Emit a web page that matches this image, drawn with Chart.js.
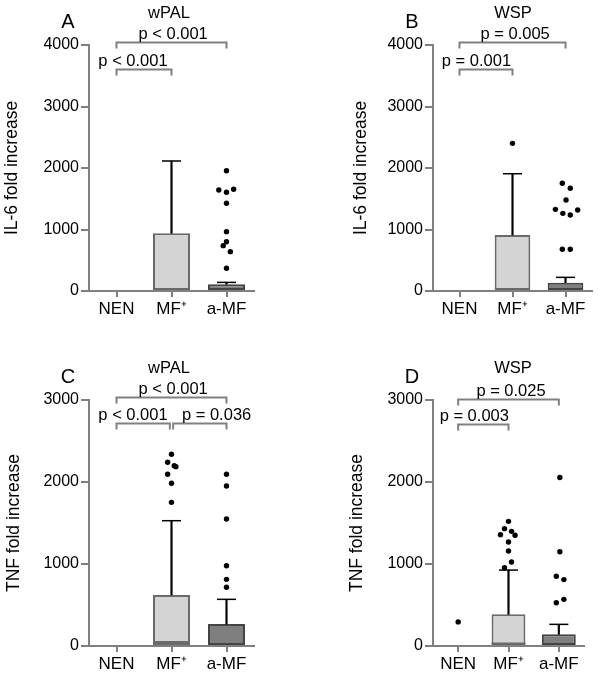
<!DOCTYPE html>
<html>
<head>
<meta charset="utf-8">
<script src="https://cdn.jsdelivr.net/npm/chart.js@4"></script>
<style>
  body { margin: 0; background: #fff; }
  #figura { position: relative; width: 603px; height: 675px; }
  #figura canvas { position: absolute; }
</style>
</head>
<body>
<div id="figura">
  <canvas id="painelA" width="300" height="320" style="left:0px;top:0px"></canvas>
  <canvas id="painelB" width="303" height="320" style="left:300px;top:0px"></canvas>
  <canvas id="painelC" width="300" height="355" style="left:0px;top:320px"></canvas>
  <canvas id="painelD" width="303" height="355" style="left:300px;top:320px"></canvas>
</div>
<script>
// categorias do eixo x
const categorias = ['NEN', 'MF⁺', 'a-MF'];
const baseCaixa = [0, 0, 0];

// A - IL-6, wPAL
const caixaA = [null, 938, 109];
const medianaA = [null, null, null];
const bigodeA = [null, 2114, 140];
const pontosA_x = [2, 1.86, 2, 2.13, 2, 2, 2, 1.94, 2.07, 2];
const pontosA_y = [1956, 1642, 1605, 1654, 1426, 965, 802, 737, 640, 369];
const pA = ['p < 0.001', 'p < 0.001'];

// B - IL-6, WSP
const caixaB = [null, 910, 135];
const medianaB = [null, null, null];
const bigodeB = [null, 1907, 222];
const pontosB_x = [1, 1.94, 2.09, 2.01, 1.81, 1.95, 2.09, 2.23, 1.94, 2.09];
const pontosB_y = [2401, 1751, 1670, 1480, 1328, 1263, 1236, 1317, 678, 678];
const pB = ['p = 0.005', 'p = 0.001'];

// C - TNF, wPAL
const caixaC = [null, 622, 268];
const medianaC = [null, 49, null];
const bigodeC = [null, 1528, 569];
const pontosC_x = [1, 0.93, 1.05, 1.08, 0.93, 1, 1, 2, 2, 2, 2, 2, 2];
const pontosC_y = [2338, 2240, 2199, 2187, 2094, 1984, 1752, 2094, 1951, 1549, 979, 813, 716];
const pC = ['p < 0.001', 'p < 0.001', 'p = 0.036'];

// D - TNF, WSP
const caixaD = [null, 386, 143];
const medianaD = [null, 29, null];
const bigodeD = [null, 926, 264];
const pontosD_x = [0, 1, 0.92, 1.06, 1.13, 0.84, 1, 1, 1.06, 0.92, 2.02, 2.02, 1.95, 2.1, 1.95, 2.1];
const pontosD_y = [294, 1520, 1431, 1398, 1350, 1358, 1268, 1158, 1024, 955, 2054, 1150, 850, 810, 528, 569];
const pD = ['p = 0.025', 'p = 0.003'];

const fonte = '"Liberation Sans", Arial, sans-serif';
const corCaixa = ['#ffffff', '#d4d4d4', '#7f7f7f'];
const corBorda = ['#ffffff', '#6a6a6a', '#444444'];
const cinza = '#808080';

Chart.defaults.font.family = fonte;
Chart.defaults.color = '#000';

// letra do painel, grupo e colchetes com valores de p
const anotacoes = {
    id: 'anotacoes',
    afterDraw(chart, args, opts) {
        const ctx = chart.ctx;
        const area = chart.chartArea;
        const x = chart.scales.x;
        const y = chart.scales.y;
        ctx.save();
        ctx.fillStyle = '#000';
        ctx.textAlign = 'center';
        ctx.textBaseline = 'alphabetic';
        ctx.font = '20px ' + fonte;
        ctx.fillText(opts.letra, area.left - 21, area.top - 17.5);
        ctx.font = '16.5px ' + fonte;
        ctx.fillText(opts.grupo, area.left + 80, area.top - 27);
        ctx.strokeStyle = cinza;
        ctx.lineWidth = 2;
        for (let i = 0; i < opts.colchetes.length; i++) {
            const c = opts.colchetes[i];
            const py = Math.round(y.getPixelForValue(c.y)) + 0.5;
            const x1 = x.getPixelForValue(c.de);
            const x2 = x.getPixelForValue(c.ate);
            ctx.beginPath();
            ctx.moveTo(x1, py + 6);
            ctx.lineTo(x1, py);
            ctx.lineTo(x2, py);
            ctx.lineTo(x2, py + 6);
            ctx.stroke();
            ctx.fillText(c.texto, x.getPixelForValue(c.tx), py - 4);
        }
        ctx.restore();
    }
};

function plotarPainel(id, p) {
    let caixas = [], bigodes = [], tampas = [], medianas = [], pontos = [];
    for (let i = 0; i < categorias.length; i++) {
        if (p.caixa[i] != null) {
            caixas.push({ x: i, y: [baseCaixa[i], p.caixa[i]] });
            bigodes.push({ x: i, y: [p.caixa[i], p.bigode[i]] });
            tampas.push({ x: i, y: p.bigode[i] });
        }
        if (p.mediana[i] != null) {
            medianas.push({ x: i, y: p.mediana[i] });
        }
    }
    for (let i = 0; i < p.px.length; i++) {
        pontos.push({ x: p.px[i], y: p.py[i] });
    }

    const dados = {
        datasets: [
            {
                type: 'bar', order: 4, data: caixas, grouped: false,
                barPercentage: 0.673, categoryPercentage: 1,
                backgroundColor: c => corCaixa[c.raw.x],
                borderColor: c => corBorda[c.raw.x],
                borderWidth: 2, borderSkipped: false
            },
            {
                type: 'bar', order: 3, data: bigodes, grouped: false,
                barThickness: 1.5, backgroundColor: '#000', borderWidth: 0
            },
            {
                type: 'scatter', order: 2, data: tampas,
                pointStyle: 'line', pointRadius: 9.5, pointBorderWidth: 1.5,
                pointBorderColor: '#000'
            },
            {
                type: 'scatter', order: 2, data: medianas,
                pointStyle: 'line', pointRadius: 17, pointBorderWidth: 2,
                pointBorderColor: '#6a6a6a'
            },
            {
                type: 'scatter', order: 1, data: pontos,
                pointRadius: 2.7, pointBorderWidth: 0,
                pointBackgroundColor: '#000'
            }
        ]
    };

    const config = {
        type: 'bar',
        data: dados,
        plugins: [anotacoes],
        options: {
            responsive: false,
            animation: false,
            layout: { padding: p.margem },
            plugins: {
                legend: { display: false },
                tooltip: { enabled: false },
                anotacoes: { letra: p.letra, grupo: p.grupo, colchetes: p.colchetes }
            },
            scales: {
                x: {
                    type: 'linear', min: -0.5, max: 2.5, offset: false,
                    afterBuildTicks: s => { s.ticks = categorias.map((c, i) => ({ value: i })); },
                    afterFit: s => { s.height = 29; },
                    ticks: { callback: v => categorias[v], font: { size: 17 }, padding: 2, maxRotation: 0 },
                    grid: { offset: false, drawOnChartArea: false, tickLength: 6, lineWidth: 2, color: cinza },
                    border: { color: cinza, width: 2 }
                },
                y: {
                    min: 0, max: p.max,
                    afterFit: s => { s.width = 89; },
                    ticks: { stepSize: 1000, callback: v => String(v), font: { size: 16 }, padding: 2 },
                    grid: { drawOnChartArea: false, tickLength: 8, lineWidth: 2, color: cinza },
                    border: { color: cinza, width: 2 },
                    title: {
                        display: true, text: p.titulo, font: { size: 17.5 },
                        padding: { top: p.recuoTitulo, bottom: 0 }
                    }
                }
            }
        }
    };

    new Chart(document.getElementById(id), config);
}

plotarPainel('painelA', {
    letra: 'A', grupo: 'wPAL', titulo: 'IL-6 fold increase', max: 4000,
    caixa: caixaA, mediana: medianaA, bigode: bigodeA, px: pontosA_x, py: pontosA_y,
    margem: { left: 0, right: 46, top: 45, bottom: 0 }, recuoTitulo: 1.5,
    colchetes: [
        { de: 0, ate: 2, y: 4044, texto: pA[0], tx: 1.03 },
        { de: 0, ate: 1, y: 3605, texto: pA[1], tx: 0.3 }
    ]
});

plotarPainel('painelB', {
    letra: 'B', grupo: 'WSP', titulo: 'IL-6 fold increase', max: 4000,
    caixa: caixaB, mediana: medianaB, bigode: bigodeB, px: pontosB_x, py: pontosB_y,
    margem: { left: 44, right: 5, top: 45, bottom: 0 }, recuoTitulo: 7,
    colchetes: [
        { de: 0, ate: 2, y: 4044, texto: pB[0], tx: 1.05 },
        { de: 0, ate: 1, y: 3605, texto: pB[1], tx: 0.32 }
    ]
});

plotarPainel('painelC', {
    letra: 'C', grupo: 'wPAL', titulo: 'TNF fold increase', max: 3000,
    caixa: caixaC, mediana: medianaC, bigode: bigodeC, px: pontosC_x, py: pontosC_y,
    margem: { left: 0, right: 46, top: 80, bottom: 0 }, recuoTitulo: 3.5,
    colchetes: [
        { de: 0, ate: 2, y: 3033, texto: pC[0], tx: 1.03 },
        { de: 0, ate: 0.97, y: 2723, texto: pC[1], tx: 0.3 },
        { de: 1.03, ate: 2, y: 2723, texto: pC[2], tx: 1.82 }
    ]
});

plotarPainel('painelD', {
    letra: 'D', grupo: 'WSP', titulo: 'TNF fold increase', max: 3000,
    caixa: caixaD, mediana: medianaD, bigode: bigodeD, px: pontosD_x, py: pontosD_y,
    margem: { left: 44, right: 5, top: 80, bottom: 0 }, recuoTitulo: 3,
    colchetes: [
        { de: 0, ate: 2, y: 3012, texto: pD[0], tx: 1.05 },
        { de: 0, ate: 1, y: 2704, texto: pD[1], tx: 0.32 }
    ]
});
</script>
</body>
</html>
